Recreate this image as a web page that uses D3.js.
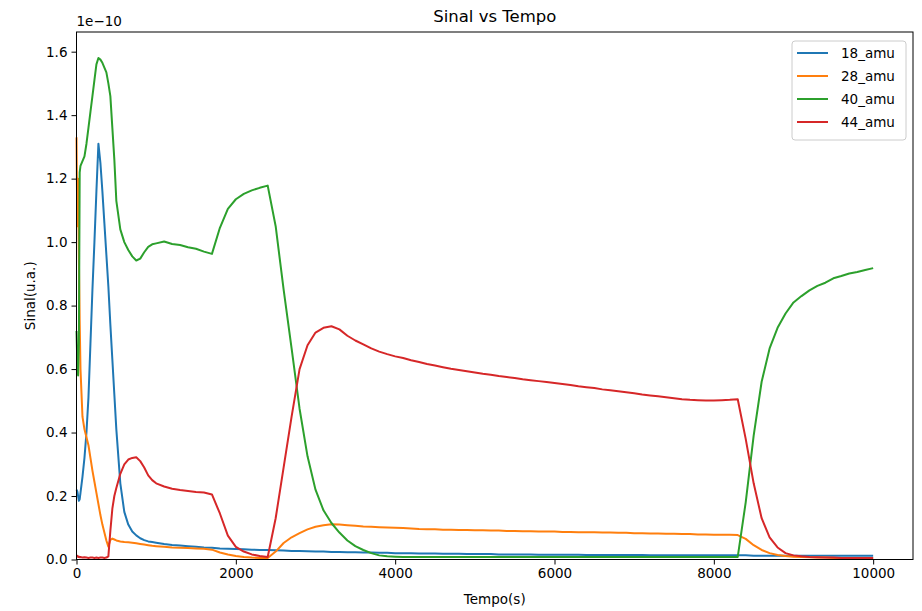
<!DOCTYPE html>
<html>
<head>
<meta charset="utf-8">
<script src="https://cdn.jsdelivr.net/npm/d3@7"></script>
<style>
  html, body { margin: 0; padding: 0; background: #ffffff; }
  svg { display: block; }
  text { font-family: "DejaVu Sans", sans-serif; fill: #000; }
</style>
</head>
<body>
<svg id="chart" width="922" height="611"></svg>
<script>
// Time grid (s)
const tempo = [
  0, 10, 20, 30, 40, 50,
  75, 100, 125, 150, 175, 200, 225, 250, 275, 300,
  325, 350, 375, 400, 425, 450, 475, 500,
  550, 600, 650, 700, 750, 800, 850, 900, 950,
  1000, 1100, 1200, 1300, 1400, 1500, 1600, 1700, 1800, 1900,
  2000, 2100, 2200, 2300, 2400, 2500, 2600, 2700, 2800, 2900,
  3000, 3100, 3200, 3300, 3400, 3500, 3600, 3700, 3800, 3900,
  4000, 4100, 4200, 4300, 4400, 4500, 4600, 4700, 4800, 4900,
  5000, 5100, 5200, 5300, 5400, 5500, 5600, 5700, 5800, 5900,
  6000, 6100, 6200, 6300, 6400, 6500, 6600, 6700, 6800, 6900,
  7000, 7100, 7200, 7300, 7400, 7500, 7600, 7700, 7800, 7900,
  8000, 8100, 8200, 8300, 8400, 8500, 8600, 8700, 8800, 8900,
  9000, 9100, 9200, 9300, 9400, 9500, 9600, 9700, 9800, 9900,
  10000
];

// Signal per mass (units of 1e-10)
const amu18 = [
  .22, .215, .20, .185, .19, .21,
  .26, .32, .40, .51, .68, .85, 1.00, 1.16, 1.31, 1.25,
  1.16, 1.06, .96, .86, .74, .63, .52, .41,
  .24, .15, .11, .088, .076, .067, .061, .057, .055,
  .053, .049, .046, .044, .042, .040, .038, .037, .035, .034,
  .033, .032, .031, .030, .030, .029, .028, .027, .027, .026,
  .025, .025, .024, .024, .023, .023, .022, .022, .021, .021,
  .020, .020, .020, .019, .019, .019, .018, .018, .018, .017,
  .017, .017, .017, .016, .016, .016, .016, .016, .015, .015,
  .015, .015, .015, .015, .014, .014, .014, .014, .014, .014,
  .014, .014, .013, .013, .013, .013, .013, .013, .013, .013,
  .013, .013, .013, .013, .013, .012, .012, .012, .012, .012,
  .012, .012, .012, .012, .012, .012, .012, .012, .012, .012,
  .012
];

const amu28 = [
  1.33, 1.05, 1.20, .95, .75, .60,
  .45, .41, .385, .36, .32, .28, .245, .21, .175, .14,
  .11, .085, .06, .04, .062, .066, .063, .060,
  .057, .055, .054, .053, .051, .049, .047, .045, .043,
  .042, .040, .038, .037, .036, .035, .034, .031, .022, .016,
  .011, .008, .006, .005, .005, .025, .052, .070, .083, .095,
  .103, .108, .111, .110, .108, .106, .104, .103, .102, .101,
  .100, .099, .098, .096, .095, .095, .094, .094, .093, .093,
  .092, .092, .091, .091, .090, .090, .089, .089, .088, .088,
  .088, .087, .087, .086, .086, .086, .085, .085, .084, .084,
  .083, .083, .082, .082, .081, .081, .080, .080, .079, .079,
  .078, .078, .078, .077, .065, .045, .030, .020, .014, .011,
  .009, .008, .007, .006, .006, .005, .005, .005, .005, .005,
  .005
];

const amu40 = [
  .72, .62, .58, .68, 1.22, 1.24,
  1.255, 1.27, 1.31, 1.36, 1.41, 1.46, 1.51, 1.56, 1.58, 1.575,
  1.565, 1.55, 1.535, 1.50, 1.46, 1.36, 1.26, 1.13,
  1.04, 1.00, .975, .955, .942, .948, .968, .985, .993,
  .996, 1.002, .994, .991, .984, .979, .970, .963, 1.045, 1.105,
  1.135, 1.152, 1.163, 1.171, 1.178, 1.05, .85, .665, .475, .325,
  .22, .155, .115, .085, .06, .042, .03, .02, .013, .01,
  .009, .008, .008, .008, .008, .008, .008, .008, .008, .008,
  .008, .008, .008, .008, .008, .008, .008, .008, .008, .008,
  .008, .008, .008, .008, .008, .008, .008, .008, .008, .008,
  .008, .008, .008, .008, .008, .008, .008, .008, .008, .008,
  .008, .008, .008, .008, .18, .39, .56, .665, .73, .775,
  .81, .83, .848, .862, .872, .886, .893, .901, .906, .912,
  .918
];

const amu44 = [
  .010, .012, .008, .009, .007, .008,
  .006, .007, .006, .005, .006, .006, .005, .006, .005, .006,
  .006, .005, .006, .010, .09, .16, .20, .225,
  .27, .30, .315, .32, .322, .31, .29, .265, .25,
  .24, .23, .223, .219, .216, .213, .211, .205, .145, .075,
  .04, .025, .016, .011, .008, .13, .29, .45, .60, .675,
  .715, .73, .735, .725, .705, .69, .678, .665, .655, .647,
  .640, .635, .628, .622, .616, .611, .606, .601, .597, .593,
  .589, .585, .582, .578, .575, .572, .568, .565, .562, .559,
  .556, .553, .550, .546, .543, .540, .536, .533, .530, .527,
  .524, .520, .517, .514, .511, .508, .505, .503, .502, .501,
  .501, .502, .503, .505, .38, .24, .13, .07, .038, .02,
  .013, .010, .008, .007, .006, .006, .005, .005, .005, .005,
  .005
];

const seriesNames = ["18_amu", "28_amu", "40_amu", "44_amu"];
const seriesValues = [amu18, amu28, amu40, amu44];
const seriesColors = ["#1f77b4", "#ff7f0e", "#2ca02c", "#d62728"];
const xTicks = [0, 2000, 4000, 6000, 8000, 10000];
const yTicks = [0.0, 0.2, 0.4, 0.6, 0.8, 1.0, 1.2, 1.4, 1.6];

const svg = d3.select("#chart");
const plotLeft = 76.5, plotRight = 913, plotTop = 32, plotBottom = 559.5;

const x = d3.scaleLinear().domain([0, 10500]).range([plotLeft, plotRight]);
const y = d3.scaleLinear().domain([0, 1.662]).range([plotBottom, plotTop]);

// Series lines
const line = d3.line()
  .x((d, i) => x(tempo[i]))
  .y(d => y(d));

const plot = svg.append("g");
seriesValues.forEach((vals, k) => {
  plot.append("path")
    .datum(vals)
    .attr("d", line)
    .attr("fill", "none")
    .attr("stroke", seriesColors[k])
    .attr("stroke-width", 2)
    .attr("stroke-linejoin", "round");
});

// Axes
const xAxis = d3.axisBottom(x).tickValues(xTicks).tickFormat(d3.format("d")).tickSizeOuter(0).tickSize(5).tickPadding(4);
const yAxis = d3.axisLeft(y).tickValues(yTicks).tickFormat(d3.format(".1f")).tickSizeOuter(0).tickSize(5).tickPadding(4);

const gx = svg.append("g").attr("transform", `translate(0,${plotBottom})`).call(xAxis);
const gy = svg.append("g").attr("transform", `translate(${plotLeft},0)`).call(yAxis);
[gx, gy].forEach(g => {
  g.select(".domain").remove();
  g.selectAll(".tick line").attr("stroke", "#000").attr("stroke-width", 1);
  g.selectAll(".tick text").attr("font-size", 13.5).attr("fill", "#000")
    .style("font-family", "DejaVu Sans, sans-serif");
});

// Frame
svg.append("rect")
  .attr("x", plotLeft).attr("y", plotTop)
  .attr("width", plotRight - plotLeft).attr("height", plotBottom - plotTop)
  .attr("fill", "none").attr("stroke", "#000").attr("stroke-width", 1);

// Titles and labels
svg.append("text").attr("x", (plotLeft + plotRight) / 2).attr("y", 22)
  .attr("text-anchor", "middle").attr("font-size", 16.5).text("Sinal vs Tempo");
svg.append("text").attr("x", plotLeft).attr("y", 26)
  .attr("font-size", 13.5).text("1e\u221210");
svg.append("text").attr("x", (plotLeft + plotRight) / 2).attr("y", 604)
  .attr("text-anchor", "middle").attr("font-size", 13.5).text("Tempo(s)");
svg.append("text")
  .attr("transform", `translate(35,${(plotTop + plotBottom) / 2}) rotate(-90)`)
  .attr("text-anchor", "middle").attr("font-size", 13.5).text("Sinal(u.a.)");

// Legend
const lg = svg.append("g").attr("transform", "translate(792,41)");
lg.append("rect").attr("width", 114).attr("height", 99).attr("rx", 3)
  .attr("fill", "#fff").attr("fill-opacity", 0.8)
  .attr("stroke", "#cccccc").attr("stroke-width", 1);
seriesNames.forEach((name, k) => {
  const row = lg.append("g").attr("transform", `translate(0,${12 + k * 23})`);
  row.append("line").attr("x1", 5).attr("x2", 36).attr("y1", 0).attr("y2", 0)
    .attr("stroke", seriesColors[k]).attr("stroke-width", 2);
  row.append("text").attr("x", 49).attr("y", 5).attr("font-size", 13.5).text(name);
});
</script>
</body>
</html>
